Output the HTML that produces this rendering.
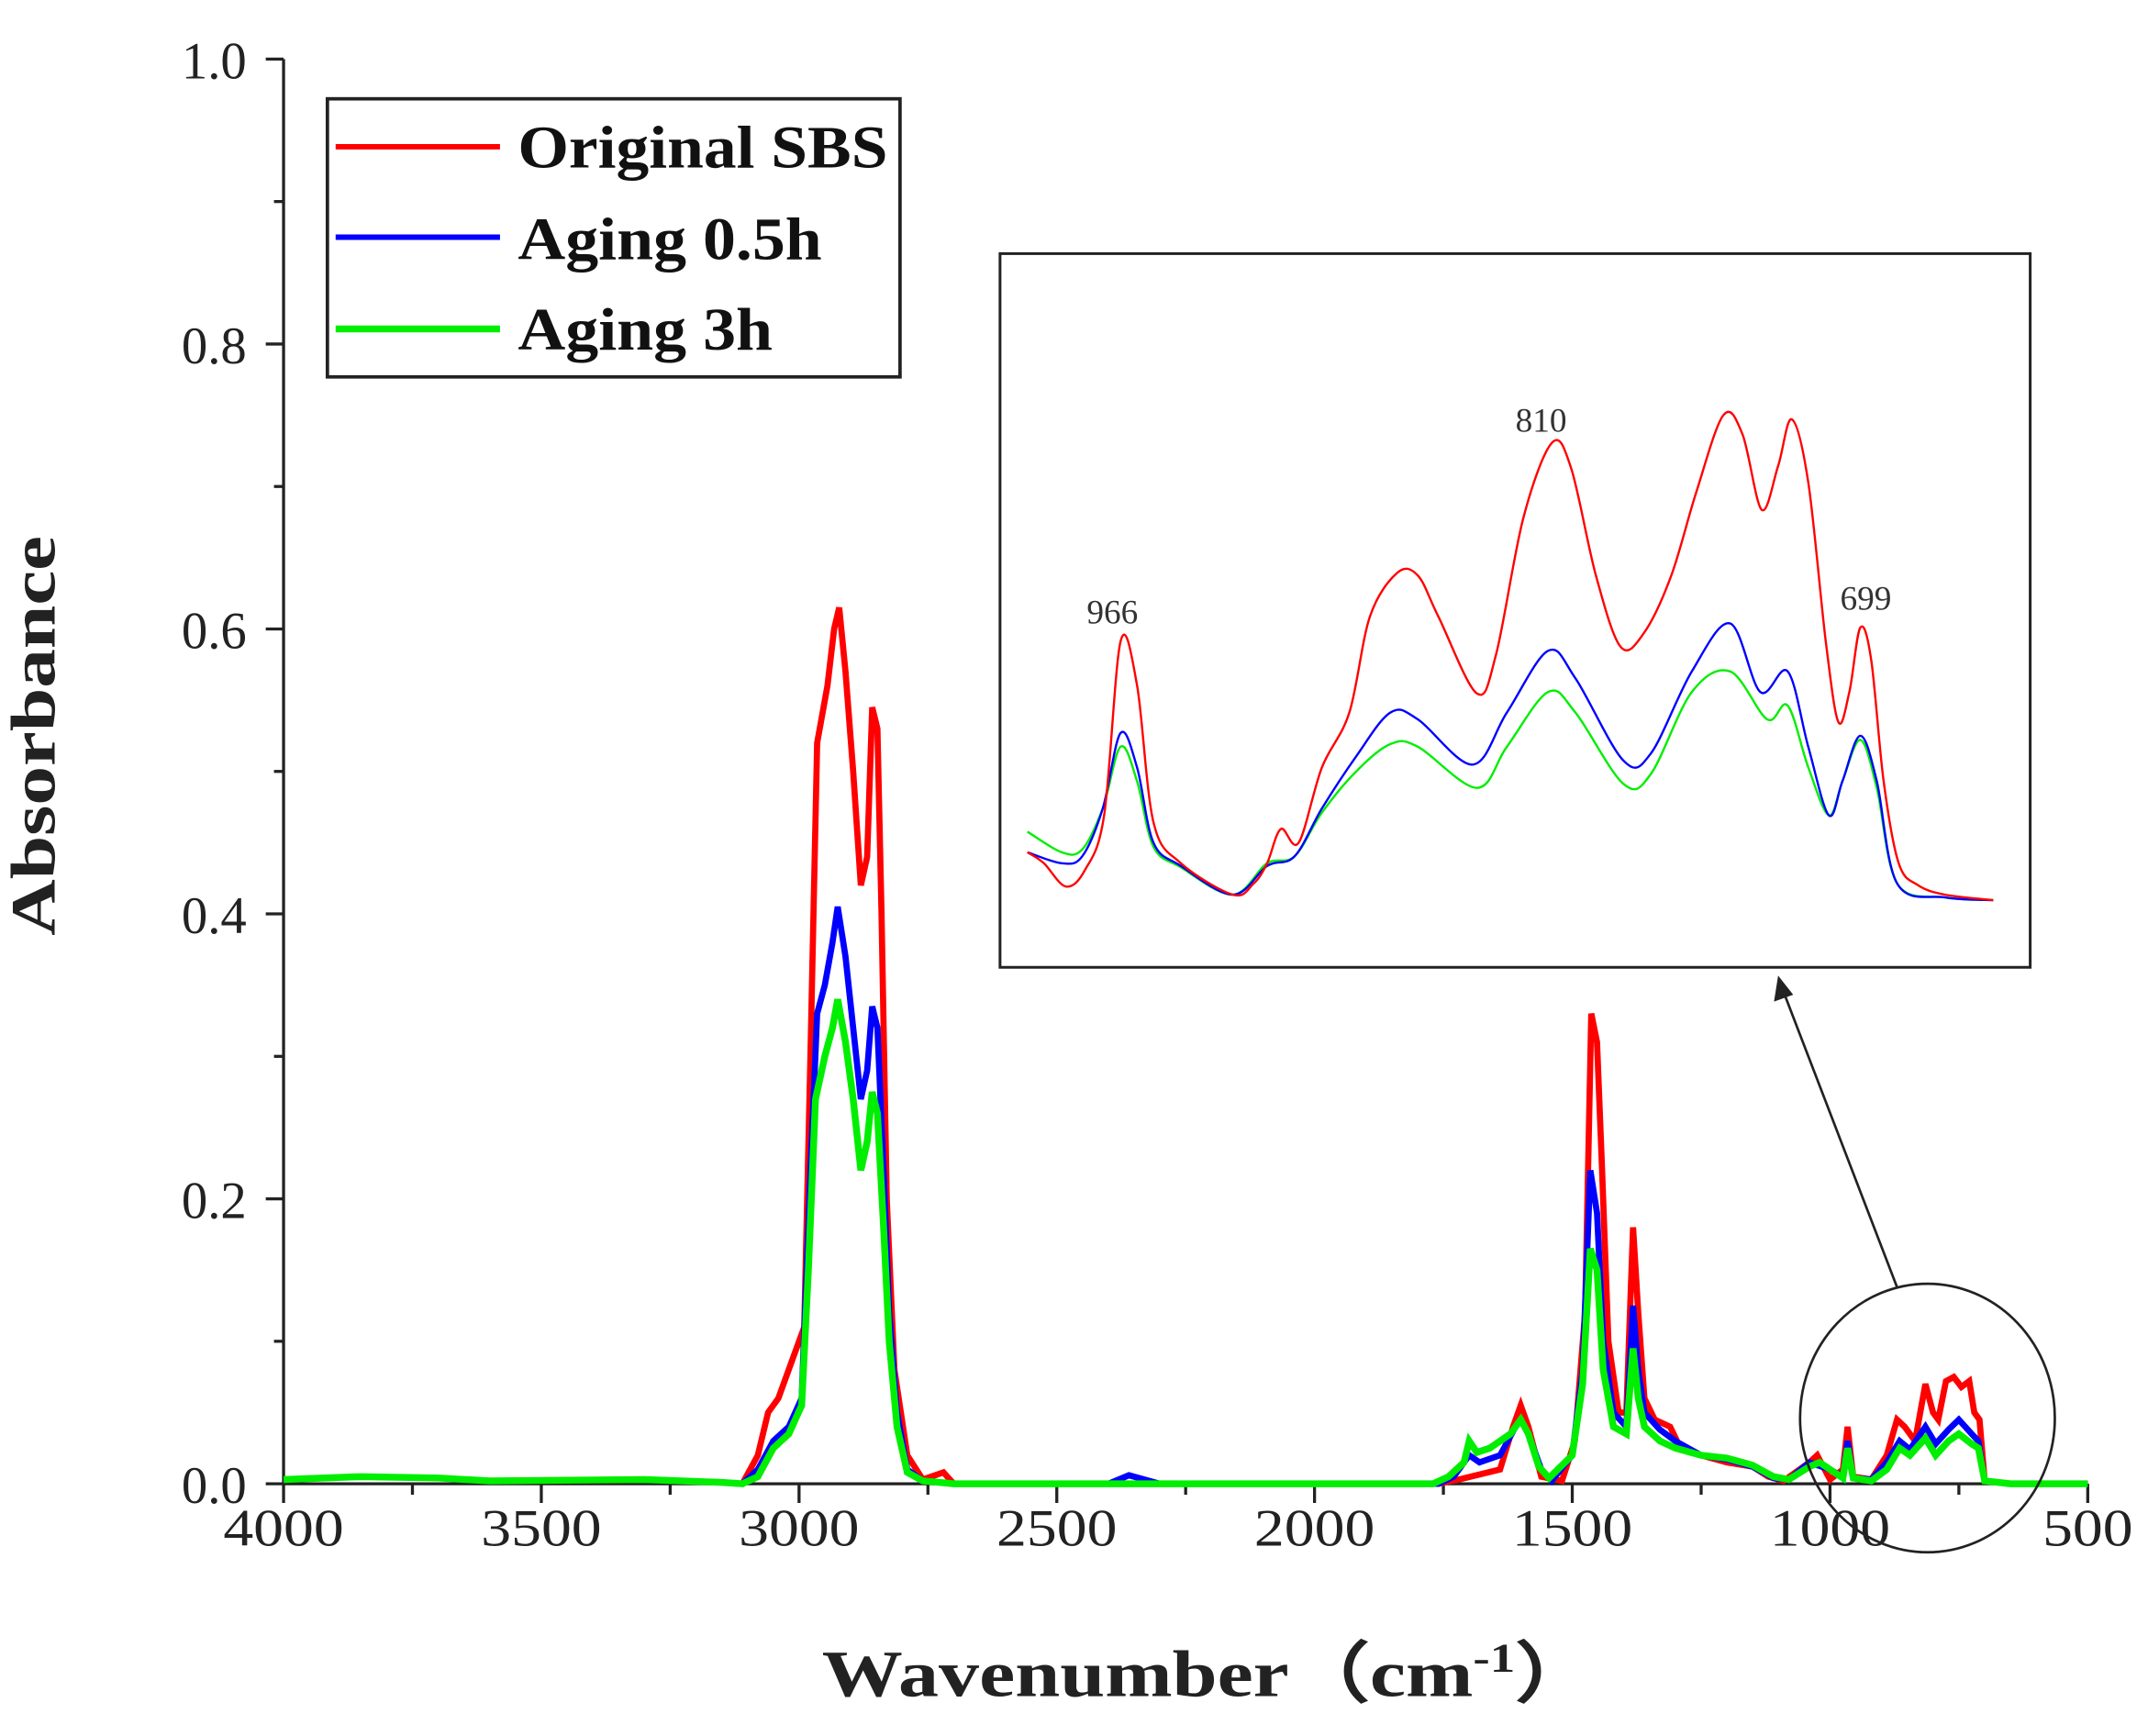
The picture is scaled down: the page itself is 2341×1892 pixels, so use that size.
<!DOCTYPE html>
<html><head><meta charset="utf-8"><style>
html,body{margin:0;padding:0;background:#fff;}
svg{display:block;}
</style></head><body>
<svg id="s" xmlns="http://www.w3.org/2000/svg" width="2341" height="1892" viewBox="0 0 1568 1267">
<rect width="1568" height="1267" fill="#fff"/>
<g id="axes" stroke="#222" stroke-width="2.2" fill="none"></g>
<g id="series" fill="none" stroke-linejoin="miter"></g>
<g font-family="'Liberation Serif',serif" fill="#222" font-size="38" id="labels"></g>
<text x="40" y="537" transform="rotate(-90 40 537)" text-anchor="middle" font-family="'Liberation Serif',serif" font-weight="bold" font-size="46" fill="#222" textLength="292" lengthAdjust="spacingAndGlyphs">Absorbance</text>
<text x="600" y="1238" font-family="'Liberation Serif',serif" font-weight="bold" font-size="48" fill="#222" textLength="565" lengthAdjust="spacingAndGlyphs">Wavenumber（cm<tspan font-size="30" dy="-18">-1</tspan><tspan dy="18">）</tspan></text>
<rect x="239" y="72" width="418" height="203" fill="#fff" stroke="#222" stroke-width="2.5"/>
<line x1="245" y1="107" x2="365" y2="107" stroke="#f00" stroke-width="4"/>
<line x1="245" y1="173" x2="365" y2="173" stroke="#00f" stroke-width="4"/>
<line x1="245" y1="240" x2="365" y2="240" stroke="#0e0" stroke-width="5"/>
<g font-family="'Liberation Serif',serif" font-weight="bold" font-size="44" fill="#111">
<text x="378" y="122" textLength="270" lengthAdjust="spacingAndGlyphs">Original SBS</text>
<text x="378" y="189" textLength="222" lengthAdjust="spacingAndGlyphs">Aging 0.5h</text>
<text x="378" y="255" textLength="186" lengthAdjust="spacingAndGlyphs">Aging 3h</text>
</g>
<rect x="730" y="185" width="752" height="521" fill="#fff" stroke="#222" stroke-width="2"/>
<g id="inset" fill="none" stroke-width="1.6"></g>
<g font-family="'Liberation Serif',serif" font-size="25" fill="#333" text-anchor="middle">
<text x="812" y="455">966</text>
<text x="1125" y="315">810</text>
<text x="1362" y="445">699</text>
</g>
<ellipse cx="1407" cy="1035" rx="93" ry="98" fill="none" stroke="#222" stroke-width="1.8"/>
<line x1="1385" y1="940" x2="1302" y2="724" stroke="#222" stroke-width="1.8"/>
<polygon points="1298,712 1295,731 1309,726" fill="#222"/>
</svg>
<script>
var NS="http://www.w3.org/2000/svg";
function el(t,a,p){var e=document.createElementNS(NS,t);for(var k in a)e.setAttribute(k,a[k]);p.appendChild(e);return e;}
var ax=document.getElementById('axes'),lb=document.getElementById('labels');
function X(w){return 207+(4000-w)*0.37629;}
function Y(a){return 1083-a*1040;}
el('line',{x1:207,y1:43,x2:207,y2:1083},ax);
el('line',{x1:207,y1:1083,x2:1524,y2:1083},ax);
for(var i=0;i<=10;i++){var y=Y(i/10);el('line',{x1:i%2?200:194,y1:y,x2:207,y2:y},ax);
 if(i%2==0){var t=el('text',{x:180,y:y+14,'text-anchor':'end'},lb);t.textContent=(i/10).toFixed(1);}}
for(var w=4000;w>=500;w-=250){var x=X(w);el('line',{x1:x,y1:1083,x2:x,y2:(w%500?1091:1097)},ax);
 if(w%500==0){var s=String(w);var t=el('text',{x:x-(s.length==4?44:33),y:1128,textLength:(s.length==4?88:66),lengthAdjust:'spacingAndGlyphs'},lb);t.textContent=s;}}
var base=[[4000,0.003],[3850,0.005],[3700,0.004],[3600,0.002],[3300,0.003],[3150,0.001],[3110,0]];
var R=base.concat([[3080,0.02],[3060,0.05],[3040,0.06],[3010,0.09],[2990,0.11],[2978,0.3],[2965,0.52],[2945,0.56],[2932,0.6],[2922,0.615],[2910,0.57],[2895,0.5],[2880,0.42],[2868,0.44],[2858,0.545],[2848,0.53],[2840,0.4],[2830,0.2],[2815,0.08],[2790,0.02],[2760,0.003],[2720,0.008],[2700,0],[1760,0],[1720,0.003],[1640,0.01],[1615,0.04],[1600,0.055],[1585,0.04],[1560,0.005],[1520,0.002],[1495,0.03],[1475,0.12],[1463,0.33],[1452,0.31],[1442,0.22],[1430,0.1],[1410,0.05],[1395,0.05],[1382,0.18],[1372,0.12],[1360,0.06],[1340,0.045],[1310,0.04],[1290,0.025],[1250,0.02],[1200,0.015],[1150,0.012],[1120,0.005],[1090,0.002],[1040,0.015],[1025,0.02],[1000,0.003],[975,0.01],[966,0.04],[955,0.005],[920,0.003],[890,0.02],[870,0.045],[855,0.04],[835,0.03],[815,0.07],[800,0.05],[790,0.045],[775,0.072],[760,0.075],[745,0.068],[730,0.072],[720,0.05],[710,0.045],[700,0.002],[650,0],[500,0]]);
var B=base.concat([[3080,0.01],[3050,0.03],[3020,0.04],[2995,0.06],[2980,0.2],[2965,0.33],[2950,0.35],[2935,0.38],[2925,0.405],[2910,0.37],[2895,0.32],[2880,0.27],[2868,0.29],[2858,0.335],[2848,0.32],[2836,0.22],[2825,0.12],[2810,0.05],[2790,0.01],[2760,0.002],[2700,0],[2400,0],[2360,0.006],[2300,0],[1760,0],[1730,0.005],[1700,0.02],[1680,0.015],[1640,0.02],[1610,0.04],[1600,0.045],[1585,0.035],[1560,0.01],[1540,0.002],[1500,0.02],[1480,0.08],[1465,0.22],[1452,0.19],[1440,0.1],[1420,0.05],[1395,0.04],[1382,0.125],[1372,0.08],[1360,0.05],[1330,0.038],[1300,0.03],[1250,0.02],[1200,0.017],[1150,0.012],[1110,0.004],[1080,0.003],[1040,0.015],[1000,0.01],[975,0.005],[966,0.03],[955,0.004],[920,0.003],[890,0.015],[865,0.03],[845,0.024],[815,0.04],[795,0.028],[770,0.038],[750,0.045],[725,0.035],[712,0.03],[700,0.002],[650,0],[500,0]]);
var G=base.concat([[3080,0.005],[3050,0.025],[3020,0.035],[2995,0.055],[2982,0.15],[2968,0.27],[2950,0.3],[2935,0.32],[2925,0.34],[2910,0.31],[2895,0.27],[2880,0.22],[2868,0.24],[2858,0.275],[2848,0.26],[2836,0.18],[2825,0.1],[2810,0.04],[2790,0.008],[2760,0.002],[2700,0],[1770,0],[1740,0.005],[1710,0.015],[1700,0.03],[1685,0.022],[1660,0.025],[1620,0.035],[1600,0.045],[1585,0.035],[1565,0.012],[1545,0.004],[1500,0.02],[1480,0.07],[1465,0.165],[1452,0.15],[1440,0.08],[1420,0.04],[1395,0.035],[1382,0.095],[1372,0.06],[1360,0.04],[1330,0.03],[1300,0.025],[1250,0.02],[1200,0.018],[1150,0.013],[1110,0.005],[1080,0.003],[1040,0.012],[1020,0.015],[1000,0.01],[975,0.004],[966,0.025],[955,0.004],[920,0.002],[890,0.01],[865,0.025],[845,0.02],[815,0.032],[795,0.02],[770,0.03],[750,0.035],[725,0.028],[712,0.025],[700,0.002],[650,0],[500,0]]);
var sg=document.getElementById('series');
function poly(d,c,w){var p=d.map(function(q){return X(q[0]).toFixed(1)+','+Y(q[1]).toFixed(1)}).join(' ');el('polyline',{points:p,stroke:c,'stroke-width':w},sg);}
poly(R,'#ff0000',4.5);poly(B,'#0000ff',4.5);poly(G,'#00ee00',5);
function smooth(pts){var d='M'+pts[0][0]+','+pts[0][1];for(var i=0;i<pts.length-1;i++){var p0=pts[i-1]||pts[i],p1=pts[i],p2=pts[i+1],p3=pts[i+2]||p2;
 var c1x=p1[0]+(p2[0]-p0[0])/6,c1y=p1[1]+(p2[1]-p0[1])/6,c2x=p2[0]-(p3[0]-p1[0])/6,c2y=p2[1]-(p3[1]-p1[1])/6;
 d+=' C'+c1x.toFixed(1)+','+c1y.toFixed(1)+' '+c2x.toFixed(1)+','+c2y.toFixed(1)+' '+p2[0]+','+p2[1];}return d;}
var ig=document.getElementById('inset');
var IR=[[750,622],[762,630],[778,647],[792,635],[806,595],[818,468],[830,500],[842,600],[862,630],[900,653],[915,645],[925,630],[935,605],[948,615],[965,560],[985,520],[1000,450],[1020,418],[1035,420],[1050,450],[1078,506],[1092,478],[1112,378],[1133,323],[1147,342],[1165,420],[1183,472],[1200,462],[1220,420],[1238,360],[1258,303],[1272,317],[1286,372],[1298,340],[1308,306],[1320,352],[1333,470],[1342,527],[1350,505],[1358,458],[1366,482],[1375,570],[1386,630],[1400,646],[1420,653],[1455,657]];
var IB=[[750,622],[775,630],[790,625],[805,590],[818,535],[830,560],[842,615],[862,632],[900,653],[925,632],[945,625],[965,590],[990,552],[1015,520],[1035,525],[1075,558],[1100,520],[1130,475],[1150,495],[1185,555],[1205,550],[1235,490],[1263,455],[1285,505],[1305,490],[1320,545],[1335,595],[1345,570],[1358,537],[1370,570],[1385,645],[1420,655],[1455,657]];
var IG=[[750,607],[775,622],[790,620],[805,590],[818,545],[830,570],[842,618],[862,633],[900,653],[925,630],[945,625],[965,593],[990,563],[1015,543],[1035,545],[1078,575],[1100,545],[1130,505],[1150,520],[1185,572],[1205,565],[1235,505],[1263,490],[1290,525],[1305,515],[1320,560],[1335,595],[1345,570],[1358,540],[1370,575],[1385,645],[1420,655],[1455,657]];
el('path',{d:smooth(IG),stroke:'#00ee00'},ig);el('path',{d:smooth(IB),stroke:'#0000ff'},ig);el('path',{d:smooth(IR),stroke:'#ff0000'},ig);
</script>
</body></html>
